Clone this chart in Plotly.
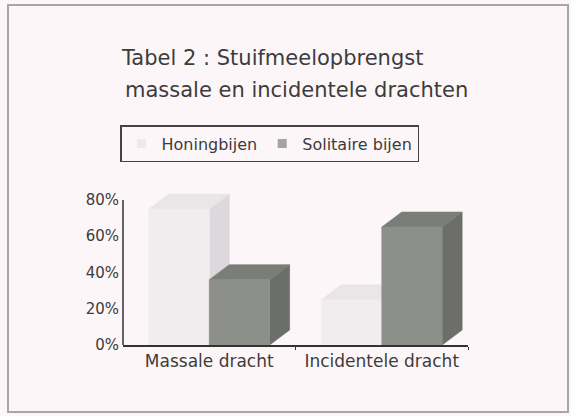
import plotly.graph_objects as go

# ---- data ----
categories = ["Massale dracht", "Incidentele dracht"]
series_names = ["Honingbijen", "Solitaire bijen"]
honingbijen = [75, 25]
solitaire = [36, 65]
y_ticks = [0, 20, 40, 60, 80]
y_tick_labels = ["0%", "20%", "40%", "60%", "80%"]
title_line1 = "Tabel 2 : Stuifmeelopbrengst"
title_line2 = "massale en incidentele drachten"

# ---- style ----
W, H = 571, 416
plot_l, plot_r = 123, 468
plot_t, plot_b = 189, 345
x_min, x_max = -0.5, 1.5
y_min, y_max = 0, 86
bar_w = 0.35
depth_px_x, depth_px_y = 20, 15
px_per_x = (plot_r - plot_l) / (x_max - x_min)
px_per_y = (plot_b - plot_t) / (y_max - y_min)
dx = depth_px_x / px_per_x
dy = depth_px_y / px_per_y
pw = plot_r - plot_l
ph = plot_b - plot_t


def px_x(p):
    return (p - plot_l) / pw


def px_y(p):
    return (plot_b - p) / ph


styles = {
    "Honingbijen": dict(front="#f1edef", side="#dcd8db", top="#e9e5e8", legend="#eeeaec", offset=-bar_w),
    "Solitaire bijen": dict(front="#8d908a", side="#6c6e6a", top="#7a7d78", legend="#a3a5a0", offset=0.0),
}

fig = go.Figure()


def poly(xs, ys, color):
    fig.add_trace(go.Scatter(
        x=xs + [xs[0]], y=ys + [ys[0]], mode="lines", fill="toself",
        fillcolor=color, line=dict(color=color, width=0.6),
        showlegend=False, hoverinfo="skip",
    ))


series = [("Honingbijen", honingbijen), ("Solitaire bijen", solitaire)]
for ci, cat in enumerate(categories):
    for name, vals in series:
        st = styles[name]
        v = vals[ci]
        x0 = ci + st["offset"]
        x1 = x0 + bar_w
        poly([x1, x1 + dx, x1 + dx, x1], [0, dy, v + dy, v], st["side"])
        poly([x0, x1, x1 + dx, x0 + dx], [v, v, v + dy, v + dy], st["top"])
        poly([x0, x1, x1, x0], [0, 0, v, v], st["front"])

for name, _ in series:
    fig.add_trace(go.Scatter(
        x=[None], y=[None], mode="markers", name=name,
        marker=dict(symbol="square", size=9, color=styles[name]["legend"]),
        hoverinfo="skip",
    ))

font_fam = "'DejaVu Sans', 'Noto Sans', sans-serif"
text_col = "#3c3c3c"

fig.update_layout(
    width=W, height=H, autosize=False,
    margin=dict(l=plot_l, r=W - plot_r, t=plot_t, b=H - plot_b, pad=0),
    paper_bgcolor="#fcf6f9",
    plot_bgcolor="rgba(0,0,0,0)",
    hovermode=False,
    font=dict(family=font_fam, color=text_col),
    annotations=[
        dict(text=title_line1, xref="paper", yref="paper",
             x=px_x(119), y=px_y(58), xanchor="left", yanchor="middle",
             showarrow=False, font=dict(size=21, color=text_col, family=font_fam)),
        dict(text=title_line2, xref="paper", yref="paper",
             x=px_x(123), y=px_y(90), xanchor="left", yanchor="middle",
             showarrow=False, font=dict(size=21, color=text_col, family=font_fam)),
    ],
    legend=dict(
        orientation="h",
        x=px_x(120), xanchor="left",
        y=px_y(125), yanchor="top",
        bordercolor="#444444", borderwidth=1.5,
        bgcolor="rgba(0,0,0,0)",
        font=dict(size=16, color=text_col),
        traceorder="normal",
    ),
    xaxis=dict(
        range=[x_min, x_max], tickvals=[0, 1], ticktext=categories,
        showgrid=False, zeroline=False, showline=True,
        linecolor="#333333", linewidth=1.5,
        ticks="", tickfont=dict(size=17, color=text_col),
        minor=dict(tickvals=[0.5, 1.5], ticks="outside", ticklen=3,
                   tickcolor="#333333", tickwidth=1.2),
        fixedrange=True,
    ),
    yaxis=dict(
        range=[y_min, y_max], tickvals=y_ticks, ticktext=y_tick_labels,
        showgrid=False, zeroline=False, showline=False,
        ticks="", tickfont=dict(size=15, color=text_col),
        ticklabelstandoff=3,
        fixedrange=True,
    ),
    shapes=[
        dict(type="line", xref="paper", yref="y", x0=0, x1=0,
             y0=y_ticks[0], y1=y_ticks[-1],
             line=dict(color="#333333", width=1.5), layer="above"),
        dict(type="rect", xref="paper", yref="paper",
             x0=px_x(8), x1=px_x(568), y0=px_y(412), y1=px_y(5),
             line=dict(color="#a8a6a7", width=2), layer="below"),
    ],
)

fig.write_html("out.html", config={"displayModeBar": False},
               post_script="document.body.style.margin='0';")
